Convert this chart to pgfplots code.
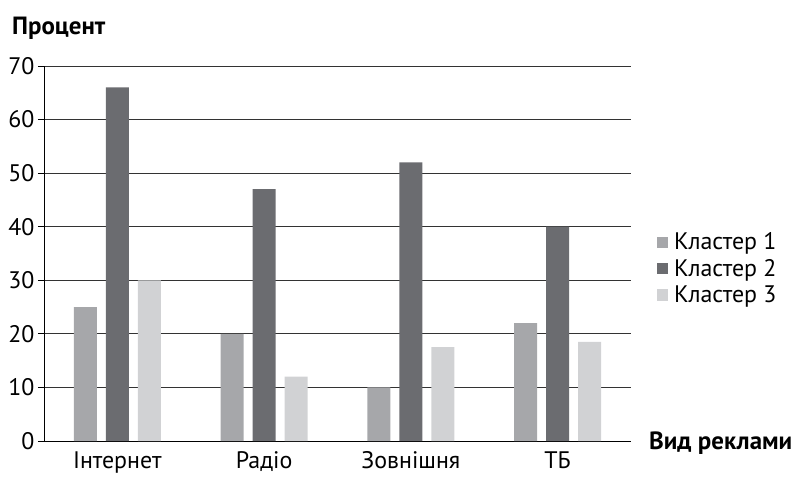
\documentclass[border=0pt]{standalone}
\usepackage{fontspec}
\setmainfont{PT Sans}
\usepackage{pgfplots}
\pgfplotsset{compat=1.18}
\definecolor{cA}{HTML}{A6A7AA}
\definecolor{cB}{HTML}{6B6C70}
\definecolor{cC}{HTML}{D1D2D4}
\definecolor{gridc}{HTML}{333333}
\begin{document}
\begin{tikzpicture}
\begin{axis}[
  name=ax,
  scale only axis,
  width=587bp, height=375bp,
  ybar=9bp, bar width=23bp,
  xmin=-0.5, xmax=3.5,
  ymin=0, ymax=70,
  xtick={0,1,2,3},
  xticklabels={Інтернет,Радіо,Зовнішня,ТБ},
  major x tick style={draw=none},
  extra x ticks={-0.5,0.5,1.5,2.5,3.5},
  extra x tick labels={},
  extra x tick style={major tick length=8bp, tick align=outside, tick style={black, line width=0.8pt}, grid=none},
  ytick={0,10,...,70},
  ymajorgrids,
  grid style={gridc, line width=0.9pt},
  y tick style={black, line width=0.8pt},
  major tick length=6bp,
  tick align=outside,
  axis x line*=bottom,
  axis y line*=left,
  axis line style={black, line width=0.8pt, -},
  font=\fontsize{24}{28}\selectfont,
  tick label style={font=\fontsize{24}{28}\selectfont},
  /pgf/number format/assume math mode=true,
  xticklabel style={yshift=-1bp},
  legend style={at={(1.044,0.46)}, anchor=west, draw=none, fill=none, inner sep=0pt, font=\fontsize{24}{28}\selectfont, row sep=4bp, column sep=4bp},
  legend cell align=left,
  legend image code/.code={\fill[#1] (0bp,-5.5bp) rectangle (11bp,5.5bp);},
  clip=false,
]
\addplot[fill=cA, draw=none] coordinates {(0,25) (1,20) (2,10) (3,22)};
\addplot[fill=cB, draw=none] coordinates {(0,66) (1,47) (2,52) (3,40)};
\addplot[fill=cC, draw=none] coordinates {(0,30) (1,12) (2,17.5) (3,18.5)};
\legend{Кластер 1,Кластер 2,Кластер 3}
\end{axis}
\node[anchor=west, inner sep=0pt, font=\bfseries\fontsize{25}{29}\selectfont] at ([xshift=-32bp,yshift=38bp]ax.north west) {Процент};
\node[anchor=west, inner sep=0pt, font=\bfseries\fontsize{25}{29}\selectfont] at ([xshift=18bp,yshift=-2bp]ax.south east) {Вид реклами};
\path ([xshift=-44bp,yshift=-35bp]ax.south west) rectangle ([xshift=753bp,yshift=66bp]ax.north west);
\end{tikzpicture}
\end{document}
